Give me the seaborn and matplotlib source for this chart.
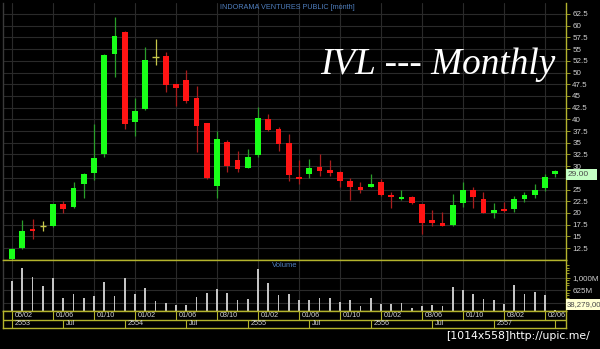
import numpy as np
import pandas as pd
import matplotlib
matplotlib.use("Agg")
import matplotlib.pyplot as plt
from matplotlib.patches import Rectangle
import seaborn as sns

# ---------------- data ----------------
months = pd.date_range("2010-02-01", periods=54, freq="MS")
opens = [10.2, 12.4, 16.6, 17.2, 17.3, 22.0, 21.2, 26.1, 28.5, 32.6,
         53.9, 58.6, 39.5, 42.3, 53.4, 53.5, 47.5, 48.3, 44.5, 39.2,
         25.8, 35.2, 31.2, 29.7, 32.3, 40.0, 38.0, 35.0, 27.7, 28.4,
         29.9, 29.2, 28.7, 26.8, 25.6, 25.6, 26.6, 23.8, 23.0, 23.4,
         21.8, 18.4, 17.8, 17.4, 22.2, 24.8, 23.0, 20.0, 20.9, 20.8,
         23.0, 23.8, 25.3, 28.3]
closes = [12.3, 16.2, 16.2, 17.2, 21.9, 20.8, 25.4, 28.3, 31.7, 53.7,
          57.8, 39.1, 41.8, 52.6, 53.4, 47.3, 46.6, 43.9, 38.6, 27.5,
          35.7, 30.1, 29.4, 32.0, 40.2, 37.7, 34.7, 28.1, 27.3, 29.7,
          28.9, 28.5, 26.9, 25.5, 25.0, 26.2, 23.8, 23.4, 23.5, 22.1,
          17.9, 17.8, 17.3, 21.7, 25.0, 23.3, 20.0, 20.6, 20.5, 23.0,
          23.8, 25.0, 27.7, 29.0]
highs = [12.5, 18.5, 18.7, 18.3, 22.0, 22.5, 26.5, 28.6, 39.0, 54.0,
         61.8, 58.8, 44.5, 55.5, 57.1, 54.4, 47.6, 50.5, 47.1, 39.3,
         37.5, 35.6, 33.3, 33.7, 42.6, 41.1, 38.3, 36.8, 31.2, 31.5,
         32.6, 31.3, 28.9, 27.4, 26.5, 28.3, 27.2, 24.4, 25.0, 23.6,
         22.0, 20.6, 20.3, 24.0, 26.7, 25.5, 24.5, 22.2, 22.4, 23.6,
         24.5, 26.2, 28.3, 29.1]
lows = [10.0, 12.3, 14.4, 16.1, 17.0, 19.9, 21.0, 23.1, 27.0, 32.0,
        49.0, 38.0, 36.4, 42.0, 51.6, 45.9, 42.8, 43.5, 33.1, 27.3,
        23.1, 28.8, 28.8, 29.5, 32.0, 37.5, 33.3, 26.8, 26.1, 27.4,
        27.9, 27.9, 25.6, 22.8, 24.3, 25.5, 23.6, 21.0, 22.8, 21.9,
        15.6, 17.1, 17.1, 17.3, 21.3, 21.1, 20.0, 19.0, 20.3, 20.3,
        22.3, 23.1, 24.7, 27.7]
volumes_m = [910, 1300, 1030, 760, 1000, 400, 520, 400, 460, 880,
             460, 1000, 520, 700, 310, 250, 190, 190, 430, 550,
             670, 550, 340, 370, 1270, 850, 490, 520, 340, 340,
             400, 400, 280, 340, 160, 400, 220, 220, 250, 100,
             160, 190, 160, 730, 640, 520, 370, 340, 220, 790,
             520, 580, 490, 38.279]

price_ticks = [62.5, 60, 57.5, 55, 52.5, 50, 47.5, 45, 42.5, 40, 37.5, 35,
               32.5, 30, 27.5, 25, 22.5, 20, 17.5, 15, 12.5]
hidden_price_ticks = [27.5]          # covered by the last-price box in the reference
vol_ticks = [250, 625, 1000]
vol_tick_labels = ["250M", "625M", "1,000M"]
date_tick_idx = [0, 4, 8, 12, 16, 20, 24, 28, 32, 36, 40, 44, 48, 52]
date_tick_labels = ["05/02", "01/06", "01/10", "01/02", "01/06", "03/10", "01/02",
                    "01/06", "01/10", "01/02", "03/06", "01/10", "03/02", "02/06"]
period_idx = [0, 5, 11, 17, 23, 29, 35, 41, 47, 53]
period_labels = ["2553", "Jul", "2554", "Jul", "2555", "Jul", "2556", "Jul", "2557", ""]

title_small = "INDORAMA VENTURES PUBLIC [month]"
title_big = "IVL --- Monthly"
last_price_label = "29.00"
last_vol_label = "38,279,00"
watermark = "[1014x558]http://upic.me/"

# ---------------- style ----------------
sns.set_theme(style="dark", rc={"axes.facecolor": "black", "figure.facecolor": "black",
                                "savefig.facecolor": "black"})
plt.rcParams["font.family"] = ["Liberation Sans", "DejaVu Sans"]

YEL = "#b3b32d"
GRID = "#2a2a2a"
LBL = "#d0d0d0"
GREEN = "#19ff19"
RED = "#ff1414"
DOJI = "#c8c84a"

W, H = 600, 349
fig = plt.figure(figsize=(W / 100, H / 100), dpi=100, facecolor="black")


def rect(x0, y0, x1, y1):
    return [x0 / W, 1 - y1 / H, (x1 - x0) / W, (y1 - y0) / H]


axp = fig.add_axes(rect(3, 3, 566, 260))
axv = fig.add_axes(rect(3, 260, 566, 311))
axd = fig.add_axes(rect(3, 311, 566, 328))

x = np.arange(len(months))
XL = (-0.88, 54.05)

df = pd.DataFrame({"x": x, "open": opens, "close": closes, "high": highs,
                   "low": lows, "vol": volumes_m})
df["dir"] = np.sign(df["close"] - df["open"])
body_col = df["dir"].map({1: GREEN, -1: RED, 0: DOJI})
wick_col = df["dir"].map({1: "#2a9e2a", -1: "#a81e1e", 0: DOJI})

# ---------------- price panel ----------------
for a in (axp, axv, axd):
    a.set_facecolor("black")
    a.set_xlim(*XL)

axp.set_ylim(9.94, 64.85)
axp.set_xticks(date_tick_idx)
axp.set_yticks(price_ticks)
axp.grid(True, color=GRID, lw=0.8)
axp.set_axisbelow(True)
axp.vlines(df["x"], df["low"], df["high"], colors=wick_col, lw=0.9, zorder=2)
bottoms = df[["open", "close"]].min(axis=1)
heights = (df["close"] - df["open"]).abs()
axp.bar(df["x"], heights, bottom=bottoms, width=0.55, color=body_col, lw=0, zorder=3)
dj = df[df["dir"] == 0]
axp.hlines(dj["close"], dj["x"] - 0.3, dj["x"] + 0.3, colors=DOJI, lw=1.0, zorder=3)

axp.yaxis.tick_right()
axp.set_yticklabels(["" if t in hidden_price_ticks else f"{t:g}" for t in price_ticks])
axp.tick_params(axis="y", colors=YEL, labelcolor=LBL, labelsize=5.8, length=3, width=0.6,
                pad=1.5, right=True, left=False)
axp.tick_params(axis="x", length=0, labelbottom=False)
axp.spines["top"].set_visible(False)
axp.spines["left"].set_color("#3a3a3a")
axp.spines["right"].set_color(YEL)
axp.spines["bottom"].set_color(YEL)
for s in axp.spines.values():
    s.set_linewidth(1)

# ---------------- volume panel ----------------
sns.barplot(data=df, x="x", y="vol", native_scale=True, ax=axv, color="#c4c4c4",
            width=0.16, saturation=1, linewidth=0)
axv.set_xlim(*XL)
axv.set_ylim(0, 1530)
axv.set_xlabel("")
axv.set_ylabel("")
axv.set_xticks(date_tick_idx)
axv.set_yticks(vol_ticks)
axv.set_yticklabels(vol_tick_labels)
axv.yaxis.tick_right()
axv.set_yticks([100, 175, 400, 475, 550, 775, 850, 925, 1150, 1225, 1300, 1375], minor=True)
axv.grid(True, which="major", color=GRID, lw=0.8)
axv.set_axisbelow(True)
axv.tick_params(axis="y", which="both", colors=YEL, labelcolor=LBL, labelsize=5.8,
                length=3, width=0.6, pad=1.5, right=True, left=False)
axv.tick_params(axis="y", which="minor", length=2)
axv.tick_params(axis="x", length=0, labelbottom=False)
axv.spines["top"].set_color(YEL)
axv.spines["left"].set_color("#3a3a3a")
axv.spines["right"].set_color(YEL)
axv.spines["bottom"].set_color(YEL)
for s in axv.spines.values():
    s.set_linewidth(1)
axv.text(0.5, 0.9, "Volume", transform=axv.transAxes, color="#4f7fbf", fontsize=5.5,
         ha="center", va="center")

# ---------------- date axis ----------------
axd.set_ylim(0, 2)
axd.set_xticks([])
axd.set_yticks([])
for s in axd.spines.values():
    s.set_color(YEL)
    s.set_linewidth(1)
axd.axhline(1, color=YEL, lw=1)
axd.vlines(date_tick_idx, 1, 2, colors=YEL, lw=0.8)
axd.vlines(period_idx, 0, 1, colors=YEL, lw=0.8)
for i, t in zip(date_tick_idx, date_tick_labels):
    axd.text(i + 0.25, 1.5, t, color=LBL, fontsize=5.2, ha="left", va="center")
for i, t in zip(period_idx, period_labels):
    axd.text(i + 0.25, 0.5, t, color=LBL, fontsize=5.2, ha="left", va="center")

# ---------------- texts ----------------
fig.text(220 / W, 1 - 7.5 / H, title_small, color="#4f7fbf", fontsize=5.2,
         ha="left", va="center")
fig.text(320 / W, 1 - 74 / H, title_big, color="white", fontsize=26.8,
         family=["Liberation Serif", "DejaVu Serif"], style="italic", ha="left",
         va="baseline")

fig.add_artist(Rectangle((566 / W, 1 - 180 / H), 31 / W, 11 / H, transform=fig.transFigure,
                         facecolor="#c4ffc4", edgecolor="none", zorder=5))
fig.text(568 / W, 1 - 174.5 / H, last_price_label, color="#4a4a4a", fontsize=6,
         ha="left", va="center", zorder=6)
fig.add_artist(Rectangle((566 / W, 1 - 310 / H), 34 / W, 11 / H, transform=fig.transFigure,
                         facecolor="#ffffd2", edgecolor="none", zorder=5))
fig.text(567 / W, 1 - 304.5 / H, last_vol_label, color="#4a4a4a", fontsize=5.6,
         ha="left", va="center", zorder=6)

fig.text(446 / W, 1 - 336 / H, watermark, color="white", fontsize=7.8,
         family=["DejaVu Sans"], ha="left", va="center")

fig.savefig("out.png", dpi=100, facecolor="black")
